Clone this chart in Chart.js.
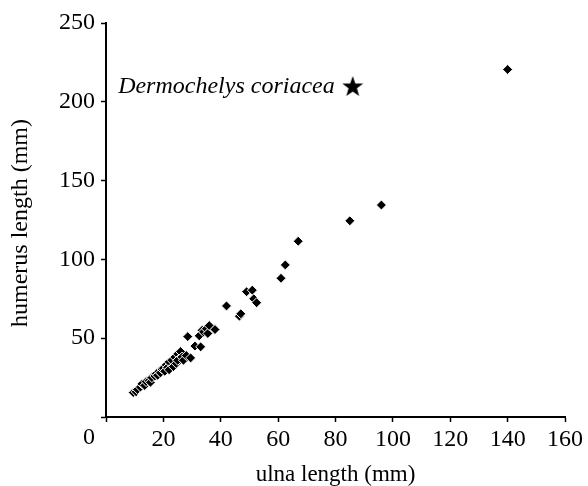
<!DOCTYPE html>
<html>
<head>
<meta charset="utf-8">
<script src="https://cdn.jsdelivr.net/npm/chart.js@4.4.0/dist/chart.umd.min.js"></script>
<style>
  body { margin: 0; background: #fff; }
</style>
</head>
<body>
<canvas id="scatterChart" width="588" height="486"></canvas>
<script>
// ulna vs humerus length
const ulnaLength = [9.5, 10.5, 11, 12, 12.5, 13.5, 14, 15, 15.5, 16, 17, 17.5, 18, 18.5, 19, 19.5, 20, 20.5, 21, 21.5,
  22, 22, 23, 23.5, 24, 24.5, 25, 25, 26, 26.5, 27, 28, 28.5, 29.5, 31, 32.5, 33, 33.5, 34, 35,
  35.5, 36, 38, 42, 46.5, 47, 49, 51, 51.5, 52.5, 61, 62.5, 67, 85, 96, 140];
const humerusLength = [15.5, 16, 17.5, 19, 21, 20, 22.5, 23, 22, 25, 26, 27.5, 26.5, 29, 28, 30.5, 31, 29, 33, 31.5,
  35, 30, 36, 32, 38, 34, 40, 36, 41.5, 38, 36, 39, 51, 37.5, 45, 51.5, 44.5, 55, 54, 56,
  53, 58, 55.5, 70.5, 64, 65.5, 79.5, 80.5, 75, 72.5, 88, 96.5, 111.5, 124.5, 134.5, 220.5];

// the leatherback point, drawn as a star
const starUlna = [86];
const starHumerus = [210];
const starLabel = "Dermochelys coriacea";

const xTitle = "ulna length (mm)";
const yTitle = "humerus length (mm)";
const xMin = 0, xMax = 160, xStep = 20;
const yMin = 0, yMax = 250, yStep = 50;

const serif = '"Liberation Serif", "Times New Roman", serif';

// filled five point star for the pointStyle
function makeStar(size) {
  const c = document.createElement("canvas");
  c.width = size;
  c.height = size;
  const g = c.getContext("2d");
  const cx = size / 2, cy = size / 2 + 1;
  const outer = size / 2, inner = outer * 0.4;
  g.beginPath();
  for (let i = 0; i < 10; i++) {
    const r = i % 2 === 0 ? outer : inner;
    const a = -Math.PI / 2 + i * Math.PI / 5;
    g.lineTo(cx + r * Math.cos(a), cy + r * Math.sin(a));
  }
  g.closePath();
  g.fillStyle = "#000";
  g.fill();
  return c;
}

const textPlugin = {
  id: "extraText",
  afterDraw(chart) {
    const ctx = chart.ctx;
    const xs = chart.scales.x;
    const ys = chart.scales.y;
    const area = chart.chartArea;
    ctx.save();
    ctx.fillStyle = "#000";
    ctx.textBaseline = "middle";
    ctx.textAlign = "center";

    // origin "0" sits left of the corner
    ctx.font = "24px " + serif;
    ctx.fillText("0", xs.getPixelForValue(0) - 17, 438);

    // axis titles
    ctx.font = "23px " + serif;
    ctx.fillText(xTitle, (area.left + area.right) / 2, 475);
    ctx.font = "24px " + serif;
    ctx.save();
    ctx.translate(21, 223);
    ctx.rotate(-Math.PI / 2);
    ctx.fillText(yTitle, 0, 0);
    ctx.restore();

    // label next to the star
    ctx.font = "italic 24px " + serif;
    ctx.textAlign = "right";
    ctx.fillText(starLabel, xs.getPixelForValue(starUlna[0]) - 18, ys.getPixelForValue(starHumerus[0]) + 1);
    ctx.restore();
  }
};

const ctx = document.getElementById("scatterChart");

new Chart(ctx, {
  type: "scatter",
  data: {
    datasets: [
      {
        data: ulnaLength.map((u, i) => ({ x: u, y: humerusLength[i] })),
        pointStyle: "rectRot",
        pointRadius: 5,
        backgroundColor: "#000",
        borderColor: "#fff",
        borderWidth: 1,
      },
      {
        data: starUlna.map((u, i) => ({ x: u, y: starHumerus[i] })),
        pointStyle: makeStar(22),
        pointRadius: 11,
      },
    ],
  },
  options: {
    responsive: false,
    animation: false,
    layout: { padding: { top: 23, right: 23, left: 0, bottom: 0 } },
    plugins: {
      legend: { display: false },
      tooltip: { enabled: false },
    },
    scales: {
      x: {
        type: "linear",
        min: xMin,
        max: xMax,
        afterFit: (s) => { s.height = 69; },
        border: { color: "#000", width: 2 },
        grid: { drawOnChartArea: false, tickLength: 5, color: "#000", tickWidth: 1.5 },
        ticks: {
          stepSize: xStep,
          color: "#000",
          padding: 3,
          font: { family: serif, size: 24 },
          callback: (v) => (v === 0 ? "" : v),
        },
      },
      y: {
        type: "linear",
        min: yMin,
        max: yMax,
        afterFit: (s) => { s.width = 106; },
        border: { color: "#000", width: 2 },
        grid: { drawOnChartArea: false, tickLength: 5, color: "#000", tickWidth: 1.5 },
        ticks: {
          stepSize: yStep,
          color: "#000",
          padding: 6,
          font: { family: serif, size: 24 },
          callback: (v) => (v === 0 ? "" : v),
        },
      },
    },
  },
  plugins: [textPlugin],
});
</script>
</body>
</html>
